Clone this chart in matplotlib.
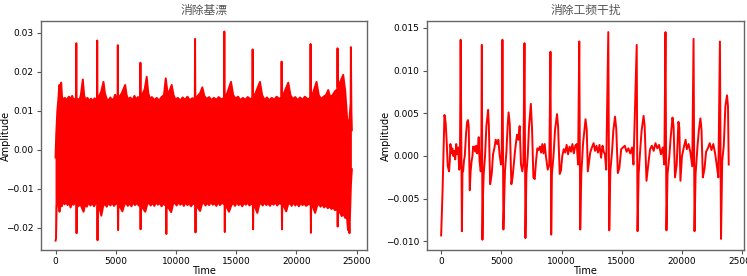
import numpy as np
import matplotlib.pyplot as plt

plt.rcParams['font.family'] = ['DejaVu Sans', 'Noto Sans CJK SC']

# left panel: upper / lower edge of the dense baseline-corrected signal (time, amplitude)
upper_edge = [
    (0, -0.002), (60, 0.004), (150, 0.010), (250, 0.0135), (307, 0.0166), (380, 0.0150),
    (470, 0.0172), (540, 0.0135), (650, 0.0128), (780, 0.0133), (900, 0.0125), (1000, 0.0132),
    (1120, 0.0136), (1250, 0.0128), (1380, 0.0138), (1500, 0.0127), (1620, 0.0131),
    (1700, 0.0125), (1725, 0.0273), (1750, 0.0125), (1850, 0.0130), (1980, 0.0127),
    (2100, 0.0140), (2265, 0.0180), (2380, 0.0138), (2500, 0.0128), (2650, 0.0133),
    (2800, 0.0126), (2950, 0.0131), (3100, 0.0125), (3250, 0.0132), (3380, 0.0127),
    (3440, 0.0128), (3460, 0.0280), (3480, 0.0128), (3600, 0.0135), (3800, 0.0150),
    (3980, 0.0174), (4100, 0.0145), (4250, 0.0130), (4400, 0.0126), (4550, 0.0134),
    (4700, 0.0127), (4850, 0.0132), (4950, 0.0141), (5080, 0.0130), (5150, 0.0130),
    (5170, 0.0268), (5190, 0.0130), (5300, 0.0136), (5500, 0.0145), (5780, 0.0166),
    (5900, 0.0140), (6050, 0.0128), (6200, 0.0134), (6400, 0.0127), (6550, 0.0138),
    (6700, 0.0129), (6850, 0.0135), (7030, 0.0130), (7048, 0.0223), (7066, 0.0130),
    (7200, 0.0142), (7400, 0.0155), (7570, 0.0187), (7700, 0.0145), (7850, 0.0130),
    (8000, 0.0135), (8200, 0.0127), (8400, 0.0133), (8600, 0.0126), (8800, 0.0135),
    (9000, 0.0140), (9150, 0.0183), (9300, 0.0145), (9450, 0.0150), (9643, 0.0166),
    (9800, 0.0140), (9950, 0.0128), (10150, 0.0133), (10350, 0.0126), (10550, 0.0134),
    (10750, 0.0128), (10950, 0.0136), (11150, 0.0127), (11350, 0.0132), (11560, 0.0130),
    (11583, 0.0284), (11606, 0.0130), (11800, 0.0138), (12000, 0.0145), (12189, 0.0160),
    (12350, 0.0138), (12550, 0.0130), (12750, 0.0135), (12950, 0.0127), (13150, 0.0133),
    (13350, 0.0128), (13550, 0.0135), (13750, 0.0129), (13990, 0.0133), (14013, 0.0303),
    (14036, 0.0133), (14250, 0.0145), (14565, 0.0174), (14750, 0.0140), (14950, 0.0131),
    (15150, 0.0136), (15350, 0.0127), (15550, 0.0133), (15750, 0.0128), (15950, 0.0135),
    (16150, 0.0130), (16340, 0.0132), (16360, 0.0257), (16380, 0.0132), (16600, 0.0145),
    (16970, 0.0174), (17150, 0.0140), (17350, 0.0128), (17550, 0.0134), (17750, 0.0127),
    (17950, 0.0133), (18150, 0.0128), (18350, 0.0136), (18550, 0.0131), (18745, 0.0133),
    (18765, 0.0226), (18785, 0.0133), (19000, 0.0148), (19320, 0.0172), (19500, 0.0140),
    (19700, 0.0130), (19900, 0.0135), (20100, 0.0127), (20300, 0.0134), (20500, 0.0128),
    (20700, 0.0136), (20900, 0.0130), (21150, 0.0132), (21170, 0.0271), (21190, 0.0132),
    (21400, 0.0148), (21667, 0.0174), (21850, 0.0140), (22050, 0.0130), (22250, 0.0136),
    (22450, 0.0140), (22637, 0.0153), (22800, 0.0135), (23000, 0.0140), (23200, 0.0150),
    (23390, 0.0155), (23408, 0.0260), (23426, 0.0160), (23650, 0.0175), (23880, 0.0192),
    (24050, 0.0150), (24250, 0.0059), (24400, 0.0080), (24500, 0.0120), (24518, 0.0263),
    (24560, 0.0100), (24600, 0.0050),
]
lower_edge = [
    (0, -0.0233), (40, -0.0228), (90, -0.0150), (150, -0.0125), (250, -0.0140), (330, -0.0159),
    (420, -0.0138), (520, -0.0145), (640, -0.0132), (760, -0.0140), (880, -0.0133),
    (1000, -0.0142), (1120, -0.0135), (1250, -0.0148), (1380, -0.0136), (1500, -0.0141),
    (1620, -0.0134), (1720, -0.0140), (1745, -0.0214), (1770, -0.0140), (1900, -0.0145),
    (2050, -0.0138), (2200, -0.0150), (2330, -0.0159), (2450, -0.0140), (2600, -0.0146),
    (2750, -0.0135), (2900, -0.0143), (3050, -0.0137), (3200, -0.0145), (3350, -0.0136),
    (3460, -0.0140), (3485, -0.0232), (3510, -0.0145), (3650, -0.0150), (3800, -0.0169),
    (3950, -0.0145), (4100, -0.0138), (4250, -0.0146), (4400, -0.0135), (4550, -0.0143),
    (4700, -0.0136), (4850, -0.0144), (5000, -0.0138), (5170, -0.0140), (5195, -0.0206),
    (5220, -0.0140), (5380, -0.0148), (5550, -0.0158), (5700, -0.0142), (5850, -0.0136),
    (6000, -0.0144), (6150, -0.0137), (6300, -0.0145), (6450, -0.0135), (6600, -0.0142),
    (6750, -0.0136), (6900, -0.0143), (7040, -0.0140), (7060, -0.0204), (7080, -0.0140),
    (7250, -0.0150), (7450, -0.0159), (7600, -0.0141), (7750, -0.0135), (7900, -0.0143),
    (8050, -0.0136), (8200, -0.0144), (8350, -0.0134), (8500, -0.0141), (8650, -0.0136),
    (8800, -0.0145), (8950, -0.0138), (9100, -0.0142), (9180, -0.0140), (9200, -0.0216),
    (9220, -0.0140), (9400, -0.0150), (9600, -0.0160), (9750, -0.0140), (9900, -0.0135),
    (10050, -0.0143), (10200, -0.0134), (10350, -0.0141), (10500, -0.0136), (10650, -0.0144),
    (10800, -0.0135), (10950, -0.0142), (11100, -0.0137), (11250, -0.0145), (11400, -0.0138),
    (11600, -0.0140), (11620, -0.0212), (11640, -0.0140), (11800, -0.0148), (12000, -0.0157),
    (12150, -0.0140), (12300, -0.0135), (12450, -0.0143), (12600, -0.0136), (12750, -0.0142),
    (12900, -0.0134), (13050, -0.0141), (13200, -0.0137), (13350, -0.0144), (13500, -0.0135),
    (13650, -0.0142), (13800, -0.0136), (14030, -0.0140), (14050, -0.0211), (14070, -0.0140),
    (14250, -0.0150), (14400, -0.0159), (14600, -0.0142), (14750, -0.0136), (14900, -0.0144),
    (15050, -0.0135), (15200, -0.0142), (15350, -0.0137), (15500, -0.0145), (15650, -0.0136),
    (15800, -0.0141), (15950, -0.0135), (16100, -0.0143), (16250, -0.0138), (16380, -0.0140),
    (16400, -0.0204), (16420, -0.0140), (16600, -0.0150), (16750, -0.0162), (16900, -0.0142),
    (17050, -0.0136), (17200, -0.0143), (17350, -0.0135), (17500, -0.0142), (17650, -0.0137),
    (17800, -0.0144), (17950, -0.0136), (18100, -0.0141), (18250, -0.0135), (18400, -0.0143),
    (18550, -0.0137), (18780, -0.0140), (18800, -0.0204), (18820, -0.0140), (19000, -0.0148),
    (19150, -0.0158), (19300, -0.0141), (19450, -0.0136), (19600, -0.0144), (19750, -0.0135),
    (19900, -0.0143), (20050, -0.0137), (20200, -0.0145), (20350, -0.0136), (20500, -0.0142),
    (20650, -0.0138), (20800, -0.0144), (20950, -0.0140), (21180, -0.0140), (21200, -0.0213),
    (21220, -0.0140), (21400, -0.0150), (21550, -0.0162), (21700, -0.0145), (21850, -0.0138),
    (22000, -0.0146), (22150, -0.0140), (22300, -0.0148), (22450, -0.0142), (22600, -0.0150),
    (22750, -0.0145), (22900, -0.0152), (23050, -0.0148), (23200, -0.0155), (23400, -0.0150),
    (23420, -0.0197), (23440, -0.0150), (23600, -0.0160), (23750, -0.0170), (23900, -0.0165),
    (24050, -0.0175), (24150, -0.0160), (24280, -0.0206), (24340, -0.0170), (24400, -0.0214),
    (24460, -0.0150), (24520, -0.0090), (24600, -0.0050),
]

# right panel: power-line filtered ECG (time, amplitude)
ecg_points = [
    (0, -0.0093), (120, -0.0040), (274, 0.0048), (330, 0.0044), (380, 0.0038), (450, 0.0020),
    (550, -0.0012), (660, -0.0018), (720, -0.0005), (770, 0.0014), (850, 0.0003), (930, 0.0009),
    (1010, 0.0), (1090, 0.0006), (1170, -0.0004), (1250, 0.0014), (1330, 0.0002), (1420, 0.0010),
    (1500, -0.0016), (1560, -0.0008), (1620, 0.0136), (1725, -0.0088), (1770, -0.0018),
    (1826, -0.0018), (1900, -0.0005), (1964, 0.0), (2074, 0.0027), (2160, 0.0040),
    (2225, 0.0042), (2290, 0.0035), (2378, -0.0040), (2450, -0.0018), (2530, -0.0006),
    (2600, 0.0), (2660, 0.0011), (2710, 0.0008), (2780, 0.0011), (2850, 0.0005), (2920, 0.0012),
    (2990, 0.0003), (3050, 0.0008), (3120, 0.0022), (3190, -0.0006), (3285, -0.0018),
    (3330, -0.0010), (3380, 0.0130), (3430, -0.0098), (3480, -0.0045), (3536, -0.0021),
    (3647, 0.0), (3757, 0.0035), (3900, 0.0054), (3960, 0.0037), (4070, -0.0033),
    (4200, -0.0021), (4310, 0.0002), (4420, 0.0009), (4530, 0.0019), (4640, 0.0014),
    (4750, 0.0019), (4860, 0.0001), (4970, -0.0010), (5030, -0.0005), (5090, 0.0136),
    (5170, -0.0086), (5220, -0.0060), (5300, -0.0018), (5420, 0.0005), (5520, 0.0035),
    (5600, 0.0051), (5700, 0.0037), (5830, -0.0033), (5930, -0.0025), (6030, -0.0010),
    (6150, 0.0008), (6300, 0.0025), (6410, 0.0019), (6521, 0.0035), (6630, -0.0010),
    (6742, -0.0018), (6830, -0.0008), (6920, 0.0132), (7000, -0.0096), (7080, -0.0021),
    (7190, 0.0), (7300, 0.0035), (7450, 0.0061), (7550, 0.0031), (7660, -0.0025),
    (7771, -0.0027), (7880, -0.0006), (7990, 0.0009), (8100, 0.0007), (8200, 0.0011),
    (8300, 0.0004), (8400, 0.0014), (8500, 0.0003), (8600, 0.0014), (8700, 0.0),
    (8850, -0.0016), (8980, -0.0010), (9080, 0.0122), (9140, -0.0092), (9200, -0.0021),
    (9330, 0.0), (9460, 0.0031), (9625, 0.0049), (9710, 0.0035), (9846, -0.0021),
    (9950, -0.0017), (10060, 0.0), (10180, 0.0008), (10300, 0.0004), (10420, 0.0013),
    (10540, 0.0002), (10660, 0.0011), (10780, 0.0005), (10900, 0.0014), (11020, 0.0003),
    (11140, 0.0012), (11260, 0.0014), (11370, -0.0010), (11470, 0.0134), (11550, -0.0086),
    (11640, -0.0021), (11780, 0.0014), (11900, 0.0030), (11990, 0.0043), (12090, 0.0031),
    (12180, -0.0018), (12380, 0.0004), (12520, 0.0010), (12659, 0.0015), (12780, 0.0006),
    (12900, 0.0012), (13020, 0.0004), (13150, 0.0013), (13280, -0.0002), (13400, 0.0012),
    (13500, 0.0005), (13600, 0.0002), (13706, -0.0016), (13880, 0.0145), (13960, -0.0087),
    (14050, -0.0018), (14200, 0.0007), (14300, 0.0030), (14440, 0.0046), (14540, 0.0032),
    (14673, -0.0020), (14800, -0.0014), (14950, 0.0008), (15100, 0.0010), (15250, 0.0012),
    (15400, 0.0005), (15550, 0.0009), (15700, 0.0003), (15850, 0.0010), (15972, -0.0010),
    (16240, 0.0130), (16310, -0.0088), (16400, -0.0021), (16550, 0.0011), (16650, 0.0030),
    (16810, 0.0047), (16900, 0.0035), (17052, -0.0029), (17200, -0.0010), (17350, 0.0008),
    (17500, 0.0012), (17650, 0.0006), (17800, 0.0015), (17950, 0.0009), (18100, 0.0013),
    (18250, 0.0002), (18400, 0.0010), (18530, -0.0010), (18630, 0.0145), (18710, -0.0087),
    (18800, -0.0021), (18950, 0.0), (19050, 0.0020), (19210, 0.0045), (19300, 0.0035),
    (19420, -0.0025), (19560, -0.0010), (19704, 0.0040), (19780, 0.0033), (19870, -0.0029),
    (20000, 0.0), (20150, 0.0010), (20300, 0.0019), (20400, 0.0008), (20550, 0.0014),
    (20700, 0.0004), (20850, -0.0012), (20960, 0.0137), (21040, -0.0088), (21130, -0.0021),
    (21280, 0.0010), (21400, 0.0030), (21530, 0.0044), (21620, 0.0031), (21730, -0.0025),
    (21870, -0.0015), (22000, 0.0005), (22150, 0.0009), (22300, 0.0015), (22450, 0.0007),
    (22600, 0.0014), (22750, 0.0003), (22880, -0.0010), (23018, -0.0025), (23150, 0.0134),
    (23240, -0.0097), (23340, -0.0006), (23470, 0.0012), (23600, 0.0058), (23740, 0.0071),
    (23820, 0.0058), (23880, -0.0010),
]

upper_time, upper_amp = np.array(upper_edge).T
lower_time, lower_amp = np.array(lower_edge).T
ecg_time, ecg_amp = np.array(ecg_points).T

fig = plt.figure(figsize=(7.47, 2.76), dpi=100)
ax1 = fig.add_axes([0.0545, 0.0942, 0.4364, 0.8298])
ax2 = fig.add_axes([0.5712, 0.0942, 0.4248, 0.8298])

ax1.fill(np.r_[upper_time, lower_time[::-1]], np.r_[upper_amp, lower_amp[::-1]],
         color='red', lw=0)
ax1.plot(upper_time, upper_amp, color='red', lw=1.4)
ax1.plot(lower_time, lower_amp, color='red', lw=1.4)
ax1.set_xlim(-1230, 25830)
ax1.set_ylim(-0.0257, 0.033)
ax1.set_yticks([-0.02, -0.01, 0.0, 0.01, 0.02, 0.03])
ax1.set_title('消除基漂', family=['Noto Sans CJK SC'], fontsize=8.5, color='#555555', pad=5)
ax1.yaxis.set_label_coords(-0.09, 0.5)

ax2.plot(ecg_time, ecg_amp, color='red', lw=1.4)
ax2.set_xlim(-1200, 25150)
ax2.set_ylim(-0.011, 0.0158)
ax2.set_yticks([-0.010, -0.005, 0.0, 0.005, 0.010, 0.015])
ax2.set_title('消除工频干扰', family=['Noto Sans CJK SC'], fontsize=8.5, color='#555555', pad=5)
ax2.yaxis.set_label_coords(-0.113, 0.5)

for ax in (ax1, ax2):
    ax.set_xticks([0, 5000, 10000, 15000, 20000, 25000])
    ax.set_xlabel('Time', fontsize=7, labelpad=0)
    ax.set_ylabel('Amplitude', fontsize=7)
    ax.tick_params(labelsize=6.5, length=3, width=0.8, color='#555555', pad=2)
    for s in ax.spines.values():
        s.set_color('#666666')
        s.set_linewidth(1.0)

fig.savefig('out.png', dpi=100)
